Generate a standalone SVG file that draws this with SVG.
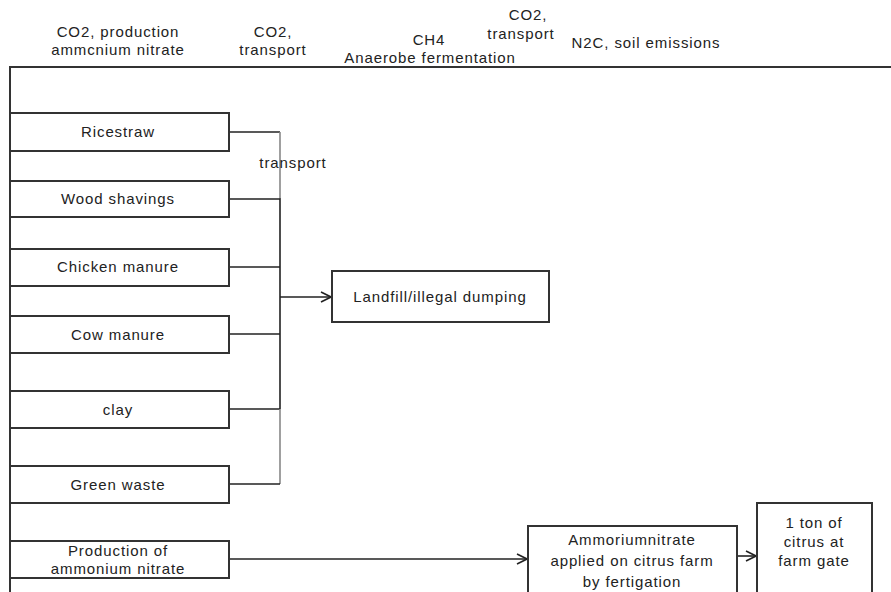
<svg xmlns="http://www.w3.org/2000/svg" width="891" height="592" viewBox="0 0 891 592">
<style>
text{font-family:"Liberation Sans",Arial,sans-serif;font-size:15px;fill:#222;text-anchor:middle;letter-spacing:0.9px}
.box{fill:#fff;stroke:#333;stroke-width:2}
.c{fill:none;stroke:#222;stroke-width:1.6}
.g{fill:none;stroke:#888;stroke-width:1.6}
.frame{fill:none;stroke:#333;stroke-width:2}
</style>
<defs>
<marker id="arr" viewBox="0 0 12 12" refX="11" refY="6" markerWidth="12" markerHeight="12" markerUnits="userSpaceOnUse" orient="auto">
<path d="M1,1 L11,6 L1,11" fill="none" stroke="#222" stroke-width="1.6"/>
</marker>
</defs>
<g id="frame">
<path class="frame" d="M891,67 H10 V592"/>
</g>
<g id="headers">
<text x="118" y="37">CO2, production</text>
<text x="118" y="55">ammcnium nitrate</text>
<text x="273" y="37">CO2,</text>
<text x="273" y="55">transport</text>
<text x="429" y="45">CH4</text>
<text x="430" y="63">Anaerobe fermentation</text>
<text x="528" y="20">CO2,</text>
<text x="521" y="39">transport</text>
<text x="646" y="48">N2C, soil emissions</text>
</g>
<g id="connectors">
<path class="c" d="M229,132 H280"/>
<path class="g" d="M280,132 V199"/>
<path class="c" d="M229,199 H280 V409"/>
<path class="c" d="M229,267 H280"/>
<path class="c" d="M229,334 H280"/>
<path class="c" d="M229,409 H280"/>
<path class="g" d="M280,409 V484"/>
<path class="c" d="M229,484 H280"/>
<path class="c" d="M280,297 H331" marker-end="url(#arr)"/>
<path class="c" d="M229,559 H527" marker-end="url(#arr)"/>
<path class="c" d="M737,556 H756" marker-end="url(#arr)"/>
<text x="293" y="168">transport</text>
</g>
<g id="rice-straw"><rect class="box" x="10" y="113" width="219" height="38"/><text x="118" y="137">Ricestraw</text></g>
<g id="wood-shavings"><rect class="box" x="10" y="181" width="219" height="36"/><text x="118" y="204">Wood shavings</text></g>
<g id="chicken-manure"><rect class="box" x="10" y="249" width="219" height="37"/><text x="118" y="272">Chicken manure</text></g>
<g id="cow-manure"><rect class="box" x="10" y="316" width="219" height="37"/><text x="118" y="340">Cow manure</text></g>
<g id="clay"><rect class="box" x="10" y="391" width="219" height="37"/><text x="118" y="415">clay</text></g>
<g id="green-waste"><rect class="box" x="10" y="466" width="219" height="37"/><text x="118" y="490">Green waste</text></g>
<g id="production"><rect class="box" x="10" y="541" width="219" height="37"/><text x="118" y="556">Production of</text><text x="118" y="574">ammonium nitrate</text></g>
<g id="landfill"><rect class="box" x="332" y="271" width="217" height="51"/><text x="440" y="302">Landfill/illegal dumping</text></g>
<g id="ammonium-applied"><rect class="box" x="528" y="526" width="209" height="80"/><text x="632" y="545">Ammoriumnitrate</text><text x="632" y="566">applied on citrus farm</text><text x="632" y="587">by fertigation</text></g>
<g id="citrus"><rect class="box" x="757" y="503" width="115" height="100"/><text x="814" y="528">1 ton of</text><text x="814" y="547">citrus at</text><text x="814" y="566">farm gate</text></g>
</svg>
